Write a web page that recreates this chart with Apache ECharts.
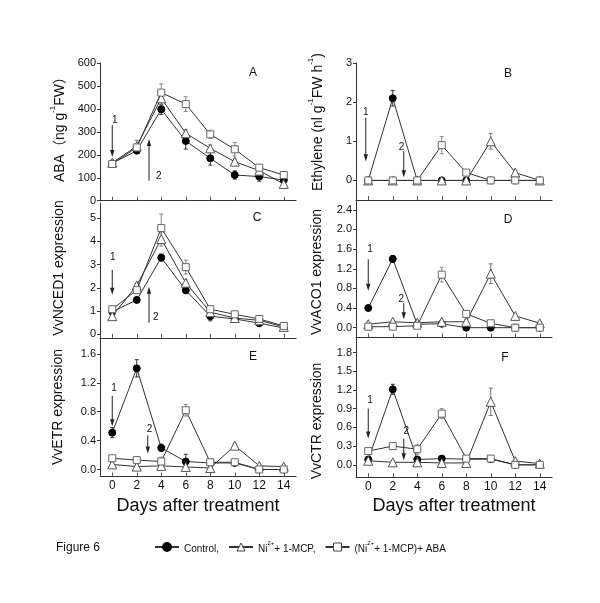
<!DOCTYPE html>
<html><head><meta charset="utf-8">
<script src="https://cdn.jsdelivr.net/npm/echarts@6/dist/echarts.min.js"></script>
<style>html,body{margin:0;padding:0;background:#fff}#c{width:600px;height:603px}</style>
</head><body><div id="c"></div>
<script>
// ---------- data ----------
const days = [0, 2, 4, 6, 8, 10, 12, 14];
const xTicks = [0, 2, 4, 6, 8, 10, 12, 14];
const seriesNames = ['Control,', 'Ni2+ + 1-MCP,', '(Ni2+ + 1-MCP)+ ABA'];

// A: ABA (ng g-1 FW)
const abaControl = [163, 218, 398, 260, 185, 112, 105, 90];
const abaNi      = [165, 238, 446, 294, 228, 170, 131, 73];
const abaNiABA   = [160, 232, 471, 421, 289, 224, 144, 112];
const abaControlErr = [10, 12, 22, 35, 30, 18, 20, 12];
const abaNiErr      = [10, 25, 30, 15, 15, 12, 12, 12];
const abaNiABAErr   = [10, 12, 38, 32, 18, 30, 10, 8];
const yTicksA = [0, 100, 200, 300, 400, 500, 600];

// B: Ethylene
const ethControl = [0, 2.1, 0, 0, 0, 0, 0, 0];
const ethNi      = [0, 0, 0, 0, 0, 1.0, 0.2, 0];
const ethNiABA   = [0, 0, 0, 0.9, 0.2, 0, 0, 0];
const ethControlErr = [0, 0.2, 0, 0, 0, 0, 0, 0];
const ethNiErr      = [0, 0, 0, 0, 0, 0.2, 0.05, 0];
const ethNiABAErr   = [0, 0, 0, 0.22, 0.05, 0, 0, 0];
const yTicksB = [0, 1, 2, 3];

// C: VvNCED1
const ncedControl = [0.97, 1.48, 3.3, 1.9, 0.78, 0.66, 0.48, 0.27];
const ncedNi      = [0.78, 2.1, 4.1, 2.22, 0.95, 0.7, 0.6, 0.32];
const ncedNiABA   = [1.08, 1.9, 4.57, 2.89, 1.08, 0.86, 0.66, 0.36];
const ncedControlErr = [0.1, 0.08, 0.15, 0.15, 0.2, 0.15, 0.12, 0.1];
const ncedNiErr      = [0.15, 0.1, 0.3, 0.12, 0.1, 0.1, 0.1, 0.1];
const ncedNiABAErr   = [0.1, 0.12, 0.6, 0.3, 0.12, 0.1, 0.1, 0.1];
const yTicksC = [0, 1, 2, 3, 4, 5];

// D: VvACO1
const acoControl = [0.40, 1.40, 0.07, 0.08, 0, 0, 0, 0];
const acoNi      = [0.07, 0.12, 0.1, 0.12, 0.12, 1.1, 0.24, 0.09];
const acoNiABA   = [0.02, 0.02, 0.04, 1.08, 0.28, 0.09, 0, 0];
const acoControlErr = [0.03, 0.07, 0.03, 0.03, 0, 0, 0, 0];
const acoNiErr      = [0.03, 0.03, 0.03, 0.03, 0.05, 0.2, 0.04, 0.03];
const acoNiABAErr   = [0.03, 0.03, 0.03, 0.15, 0.05, 0.03, 0.02, 0.02];
const yTicksD = [0, 0.4, 0.8, 1.2, 1.6, 2.0, 2.4];

// E: VvETR
const etrControl = [0.51, 1.40, 0.30, 0.11, 0.09, 0.09, 0, 0];
const etrNi      = [0.07, 0.04, 0.05, 0.035, 0.02, 0.33, 0.05, 0.04];
const etrNiABA   = [0.155, 0.13, 0.11, 0.82, 0.1, 0.1, 0, 0];
const etrControlErr = [0.07, 0.12, 0.05, 0.1, 0.02, 0.02, 0.02, 0.02];
const etrNiErr      = [0.03, 0.02, 0.02, 0.02, 0.02, 0.03, 0.02, 0.02];
const etrNiABAErr   = [0.03, 0.03, 0.06, 0.08, 0.02, 0.02, 0.02, 0.02];
const yTicksE = [0, 0.4, 0.8, 1.2, 1.6];

// F: VvCTR
const ctrControl = [0.085, 1.21, 0.085, 0.10, 0.09, 0.09, 0, 0];
const ctrNi      = [0.065, 0.04, 0.04, 0.03, 0.03, 1.01, 0.06, 0.02];
const ctrNiABA   = [0.22, 0.30, 0.25, 0.82, 0.1, 0.1, 0, 0];
const ctrControlErr = [0.03, 0.08, 0.03, 0.02, 0.02, 0.02, 0.01, 0.01];
const ctrNiErr      = [0.05, 0.02, 0.02, 0.02, 0.02, 0.22, 0.02, 0.02];
const ctrNiABAErr   = [0.04, 0.03, 0.08, 0.08, 0.02, 0.02, 0.01, 0.01];
const yTicksF = [0, 0.3, 0.6, 0.9, 1.2, 1.5, 1.8];

// ---------- layout / styles ----------
const FONT = 'Liberation Sans, Arial, Noto Sans CJK SC, sans-serif';
const panels = [
  {letter:'A', grid:{left:100, top:63, width:196, height:137.7}, ymin:0, ymax:600, ticks:yTicksA, dec:0,
   vals:[abaControl, abaNi, abaNiABA], errs:[abaControlErr, abaNiErr, abaNiABAErr], bottom:false,
   letterPos:[253,73],
   arrows:[{x:0, from:330, to:190, lx:0.2, ly:352, t:'1'}, {x:3, from:87, to:269, lx:3.8, ly:107, t:'2'}]},
  {letter:'B', grid:{left:356, top:63, width:196, height:137}, ymin:-0.5, ymax:3, ticks:yTicksB, dec:0,
   vals:[ethControl, ethNi, ethNiABA], errs:[ethControlErr, ethNiErr, ethNiABAErr], bottom:false,
   letterPos:[508,74],
   arrows:[{x:-0.2, from:1.6, to:0.49, lx:-0.2, ly:1.73, t:'1'}, {x:2.9, from:0.75, to:0.08, lx:2.72, ly:0.84, t:'2'}]},
  {letter:'C', grid:{left:100, top:203, width:196, height:134.8}, ymin:-0.15, ymax:5.65, ticks:yTicksC, dec:0,
   vals:[ncedControl, ncedNi, ncedNiABA], errs:[ncedControlErr, ncedNiErr, ncedNiABAErr], bottom:false,
   letterPos:[257,218],
   arrows:[{x:0, from:2.77, to:1.7, lx:0.05, ly:3.3, t:'1'}, {x:3, from:0.5, to:2.05, lx:3.55, ly:0.72, t:'2'}]},
  {letter:'D', grid:{left:356, top:200, width:196, height:137.5}, ymin:-0.2, ymax:2.6, ticks:yTicksD, dec:1,
   vals:[acoControl, acoNi, acoNiABA], errs:[acoControlErr, acoNiErr, acoNiABAErr], bottom:false,
   letterPos:[508,220],
   arrows:[{x:0, from:1.39, to:0.75, lx:0.15, ly:1.6, t:'1'}, {x:2.9, from:0.5, to:0.17, lx:2.7, ly:0.58, t:'2'}]},
  {letter:'E', grid:{left:100, top:338, width:196, height:138.7}, ymin:-0.1, ymax:1.82, ticks:yTicksE, dec:1,
   vals:[etrControl, etrNi, etrNiABA], errs:[etrControlErr, etrNiErr, etrNiABAErr], bottom:true,
   letterPos:[253,357],
   arrows:[{x:0, from:1.02, to:0.6, lx:0.15, ly:1.13, t:'1'}, {x:2.9, from:0.47, to:0.22, lx:3.05, ly:0.56, t:'2'}]},
  {letter:'F', grid:{left:356, top:337.5, width:196, height:139.8}, ymin:-0.2, ymax:2.04, ticks:yTicksF, dec:1,
   vals:[ctrControl, ctrNi, ctrNiABA], errs:[ctrControlErr, ctrNiErr, ctrNiABAErr], bottom:true,
   letterPos:[505,358],
   arrows:[{x:0, from:0.9, to:0.42, lx:0.15, ly:1.04, t:'1'}, {x:2.9, from:0.42, to:0.075, lx:3.1, ly:0.53, t:'2'}]}
];

const markerStyles = [
  {symbol:'circle', symbolSize:7, itemStyle:{color:'#000', borderColor:'#000', borderWidth:1}},
  {symbol:'triangle', symbolSize:9, itemStyle:{color:'#fff', borderColor:'#555', borderWidth:1}},
  {symbol:'rect', symbolSize:7, itemStyle:{color:'#fff', borderColor:'#666', borderWidth:1}}
];
const errColors = ['#333', '#777', '#888'];

function errRender(color) {
  return function (params, api) {
    const x = api.value(0), y = api.value(1), e = api.value(2);
    if (!e) return null;
    const t = api.coord([x, y + e]), b = api.coord([x, y - e]);
    const w = 2;
    const st = {stroke: color, lineWidth: 1};
    return {type:'group', children:[
      {type:'line', shape:{x1:t[0], y1:t[1], x2:b[0], y2:b[1]}, style:st},
      {type:'line', shape:{x1:t[0]-w, y1:t[1], x2:t[0]+w, y2:t[1]}, style:st},
      {type:'line', shape:{x1:b[0]-w, y1:b[1], x2:b[0]+w, y2:b[1]}, style:st}
    ]};
  };
}

const grids = [], xAxes = [], yAxes = [], series = [], graphics = [];
panels.forEach((p, i) => {
  grids.push(p.grid);
  xAxes.push({
    type:'value', gridIndex:i, min:-1, max:15,
    axisLine:{show:true, onZero:false, lineStyle:{color:'#333', width:1}},
    axisTick:{show:true, inside:true, length:4, customValues:xTicks, lineStyle:{color:'#555'}},
    axisLabel:{show:p.bottom, customValues:xTicks, fontSize:12, color:'#111', margin:3, fontFamily:FONT},
    splitLine:{show:false},
    name: p.bottom ? 'Days after treatment' : '',
    nameLocation:'middle', nameGap:20,
    nameTextStyle:{fontSize:18, color:'#111', fontFamily:FONT}
  });
  yAxes.push({
    type:'value', gridIndex:i, min:p.ymin, max:p.ymax, position:'left',
    axisLine:{show:true, onZero:false, lineStyle:{color:'#333', width:1}},
    axisTick:{show:true, inside:false, length:3, customValues:p.ticks, lineStyle:{color:'#333'}},
    axisLabel:{customValues:p.ticks, fontSize:11, color:'#111', margin:4, fontFamily:FONT,
      formatter: v => Number(v).toFixed(p.dec)},
    splitLine:{show:false}
  });
  p.vals.forEach((vals, k) => {
    series.push({
      type:'custom', xAxisIndex:i, yAxisIndex:i, z:1, silent:true,
      renderItem: errRender(errColors[k]),
      data: days.map((d, j) => [d, vals[j], p.errs[k][j]])
    });
  });
  p.vals.forEach((vals, k) => {
    series.push(Object.assign({
      type:'line', name:seriesNames[k], xAxisIndex:i, yAxisIndex:i, z:2 + k,
      data: days.map((d, j) => [d, vals[j]]),
      showAllSymbol:true,
      lineStyle:{color:'#333', width:1},
      emphasis:{disabled:true}
    }, markerStyles[k]));
  });
  graphics.push({type:'text', x:p.letterPos[0], y:p.letterPos[1],
    style:{text:p.letter, fontSize:12, fill:'#111', fontFamily:FONT, align:'center', verticalAlign:'middle'}});
});

// y-axis titles
const titleRich = {
  n:{fontSize:14, fontFamily:FONT, fill:'#111', color:'#111', lineHeight:18, verticalAlign:'bottom'},
  s:{fontSize:8, fontFamily:FONT, fill:'#111', color:'#111', lineHeight:10, verticalAlign:'top'}
};
const titles = [
  {x:58, y:126, text:'{n|ABA（ng g}{s|-1}{n|FW）}'},
  {x:316, y:122, text:'{n|Ethylene (nl g}{s|-1}{n|FW h}{s|-1}{n|)}'},
  {x:57, y:268, text:'{n|VvNCED1 expression}'},
  {x:315, y:272, text:'{n|VvACO1 expression}'},
  {x:56, y:407, text:'{n|VvETR expression}'},
  {x:315, y:421, text:'{n|VvCTR expression}'}
];
titles.forEach(t => graphics.push({type:'text', x:t.x, y:t.y, rotation:Math.PI/2,
  style:{text:t.text, rich:titleRich, align:'center', verticalAlign:'middle'}}));
graphics.push({type:'text', x:56, y:548,
  style:{text:'Figure 6', fontSize:12, fill:'#111', fontFamily:FONT, align:'left', verticalAlign:'middle'}});

const legendLabels = {
  'Control,':'{n|Control,}',
  'Ni2+ + 1-MCP,':'{n|Ni}{s|2+}{n|+ 1-MCP,}',
  '(Ni2+ + 1-MCP)+ ABA':'{n|(Ni}{s|2+}{n|+ 1-MCP)+ ABA}'
};

const chart = echarts.init(document.getElementById('c'), null, {renderer:'canvas'});
chart.setOption({
  animation:false,
  backgroundColor:'#fff',
  grid:grids, xAxis:xAxes, yAxis:yAxes, series:series,
  legend:{
    data:[
      {name:seriesNames[0], itemStyle:{color:'#000', borderColor:'#000'}},
      {name:seriesNames[1], itemStyle:{color:'#fff', borderColor:'#444', borderWidth:1}},
      {name:seriesNames[2], itemStyle:{color:'#fff', borderColor:'#444', borderWidth:1}}
    ],
    left:154, top:540, itemWidth:24, itemHeight:10, itemGap:9, padding:0,
    selectedMode:false,
    formatter: n => legendLabels[n],
    textStyle:{fontSize:10, color:'#111', fontFamily:FONT,
      rich:{
        n:{fontSize:10, fontFamily:FONT, color:'#111', lineHeight:14, verticalAlign:'bottom'},
        s:{fontSize:6, fontFamily:FONT, color:'#111', lineHeight:8, verticalAlign:'top'}
      }}
  }
});

// annotation arrows (placed in data space via the chart's own scales)
panels.forEach((p, i) => {
  p.arrows.forEach(a => {
    const s = chart.convertToPixel({gridIndex:i}, [a.x, a.from]);
    const e = chart.convertToPixel({gridIndex:i}, [a.x, a.to]);
    const dir = e[1] > s[1] ? 1 : -1;
    const hl = 7, hw = 2.2;
    graphics.push({type:'line', silent:true, z:10,
      shape:{x1:s[0], y1:s[1], x2:e[0], y2:e[1] - dir*hl*0.6}, style:{stroke:'#222', lineWidth:1}});
    graphics.push({type:'polygon', silent:true, z:10,
      shape:{points:[[e[0], e[1]], [e[0]-hw, e[1]-dir*hl], [e[0]+hw, e[1]-dir*hl]]}, style:{fill:'#222'}});
    const l = chart.convertToPixel({gridIndex:i}, [a.lx, a.ly]);
    graphics.push({type:'text', silent:true, z:10, x:l[0], y:l[1],
      style:{text:a.t, fontSize:10, fill:'#111', fontFamily:FONT, align:'center', verticalAlign:'middle'}});
  });
});
chart.setOption({graphic: graphics});
</script>
</body></html>
